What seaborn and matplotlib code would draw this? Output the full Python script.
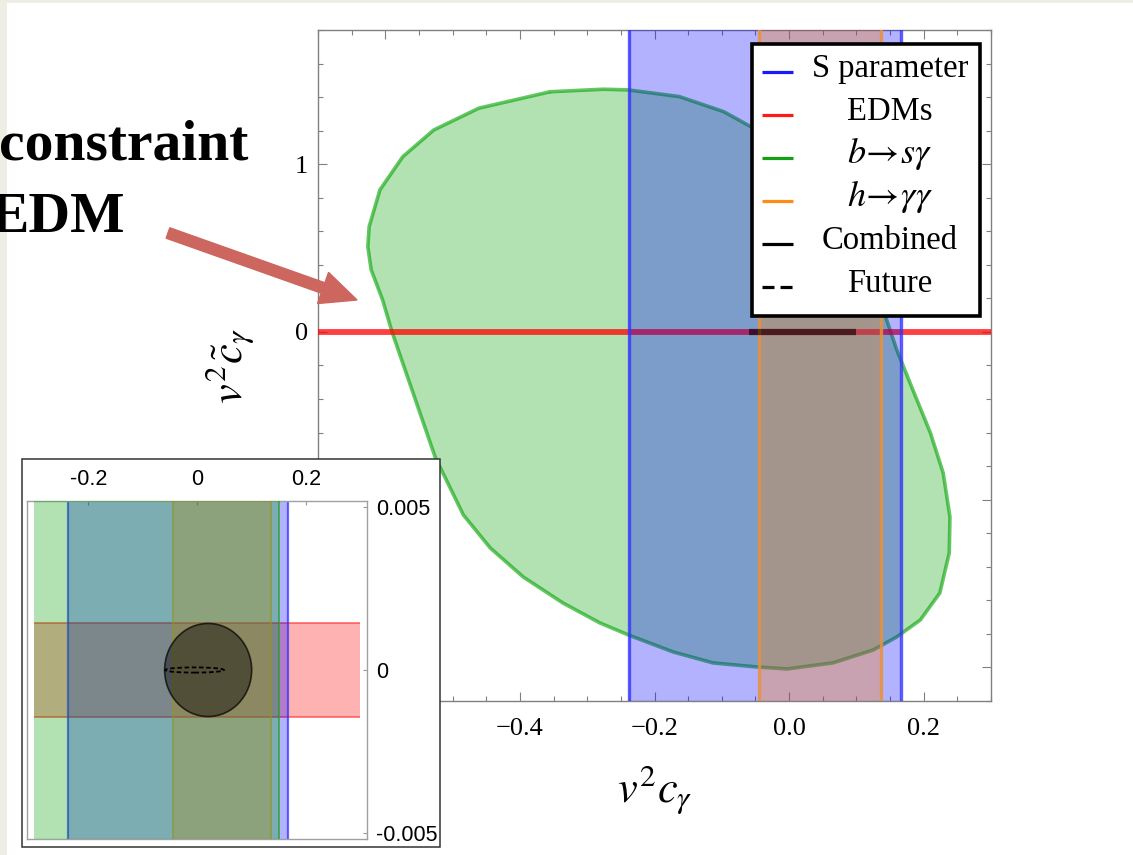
import matplotlib
matplotlib.use("Agg")
import pandas as pd
import matplotlib.pyplot as plt
import seaborn as sns
from matplotlib.patches import Rectangle, Ellipse, FancyArrow
from matplotlib.transforms import IdentityTransform
from matplotlib.ticker import MultipleLocator, FuncFormatter

# Constraint values
s_param = (-0.238, 0.166)        # S parameter band in v^2 c_gamma
h_gaga = (-0.045, 0.136)         # h -> gamma gamma band
edm_half = 0.00143               # EDM band half width in v^2 c~_gamma
bsg_zoom = (-0.300, 0.150)       # b -> s gamma band as seen in the zoomed panel
zoom_span = (-0.300, 0.300)      # plotted range of the zoomed panel
combined_center = (0.020, 0.0)
combined_radii = (0.080, 0.00143)
future_center = (-0.005, 0.0)
future_radii = (0.054, 0.00008)

# b -> s gamma allowed region (main panel)
bsg_x = [-0.355, -0.276, -0.239, -0.163, -0.097, -0.057, 0.002, 0.054, 0.098,
         0.117, 0.135, 0.160, 0.184, 0.210, 0.229, 0.239, 0.238, 0.224, 0.195,
         0.160, 0.125, 0.065, -0.003, -0.048, -0.113, -0.172, -0.239, -0.281,
         -0.336, -0.395, -0.444, -0.484, -0.519, -0.526, -0.590, -0.604,
         -0.621, -0.626, -0.624, -0.608, -0.574, -0.528, -0.461]
bsg_y = [1.432, 1.447, 1.443, 1.403, 1.313, 1.224, 1.085, 0.876, 0.608,
         0.399, 0.191, -0.107, -0.346, -0.602, -0.841, -1.103, -1.317, -1.556,
         -1.717, -1.818, -1.896, -1.973, -2.009, -1.997, -1.973, -1.908,
         -1.806, -1.735, -1.616, -1.461, -1.288, -1.091, -0.803, -0.745, 0.0,
         0.191, 0.370, 0.508, 0.628, 0.847, 1.045, 1.204, 1.334]

legend_labels = ["S parameter", "EDMs", r"$b\!\rightarrow\! s\gamma$",
                 r"$h\!\rightarrow\!\gamma\gamma$", "Combined", "Future"]
legend_colors = ["#1a1aff", "#ff1a1a", "#14a014", "#ff8c19", "black", "black"]
legend_styles = ["-", "-", "-", "-", "-", "--"]

main_xticks_step = 0.2
zoom_xticks = [-0.2, 0.0, 0.2]
zoom_xlabels = ["-0.2", "0", "0.2"]
zoom_yticks = [-0.005, 0.0, 0.005]
zoom_ylabels = ["-0.005", "0", "0.005"]

sns.set_style("ticks")
plt.rcParams["font.family"] = ["Liberation Serif", "DejaVu Serif"]
plt.rcParams["mathtext.fontset"] = "stix"
plt.rcParams["text.color"] = "black"
plt.rcParams["axes.labelcolor"] = "black"

W, H = 1133, 855
fig = plt.figure(figsize=(W / 100, H / 100), dpi=100)
fig.patch.set_facecolor("white")


def fx(px):
    return px / W


def fy(py):
    return 1 - py / H


# slide background strips
fig.add_artist(Rectangle((0, fy(3)), 1, 3 / H, transform=fig.transFigure,
                         facecolor="#eeeee4", edgecolor="none", zorder=1))
fig.add_artist(Rectangle((0, 0), 7 / W, 1, transform=fig.transFigure,
                         facecolor="#eeeee4", edgecolor="none", zorder=1))

# ---------------- main panel ----------------
L, R, T, B = 318, 991, 30, 701
ax = fig.add_axes([fx(L), fy(B), (R - L) / W, (B - T) / H])
ax.set_facecolor("white")

ax.fill(bsg_x, bsg_y, facecolor=(0.0, 0.635, 0.0, 0.3), edgecolor="none", zorder=1)
edge = pd.DataFrame({"x": bsg_x + bsg_x[:1], "y": bsg_y + bsg_y[:1]})
sns.lineplot(data=edge, x="x", y="y", sort=False, estimator=None,
             color=(0.0, 0.63, 0.0), alpha=0.6, linewidth=2.6, ax=ax, zorder=2)

# EDMs (band is far thinner than a pixel here)
ax.axhline(0.0, color="#ff0000", alpha=0.75, linewidth=4.2, zorder=3)

# S parameter
ax.axvspan(s_param[0], s_param[1], facecolor=(0, 0, 1, 0.3), edgecolor="none", zorder=4)
for v in s_param:
    ax.axvline(v, color="#3333ff", alpha=0.8, linewidth=2.4, zorder=4)

# h -> gamma gamma
ax.axvspan(h_gaga[0], h_gaga[1], facecolor=(1, 0.5, 0, 0.3), edgecolor="none", zorder=5)
for v in h_gaga:
    ax.axvline(v, color="#e8913a", alpha=0.85, linewidth=2.4, zorder=5)

# combined
ax.plot([combined_center[0] - combined_radii[0], combined_center[0] + combined_radii[0]],
        [combined_center[1], combined_center[1]], color="black", alpha=0.6,
        linewidth=4.5, solid_capstyle="butt", zorder=7)

ax.set_xlim(-0.7, 0.3)
ax.set_ylim(-2.2, 1.8)
ax.xaxis.set_major_locator(MultipleLocator(main_xticks_step))
ax.xaxis.set_minor_locator(MultipleLocator(0.05))
ax.yaxis.set_major_locator(MultipleLocator(1))
ax.yaxis.set_minor_locator(MultipleLocator(0.2))


def xfmt(v, _):
    if abs(v) < 1e-9:
        return "0.0"
    return f"{v:.1f}".replace("-", "\u2212")


ax.xaxis.set_major_formatter(FuncFormatter(xfmt))
ax.yaxis.set_major_formatter(FuncFormatter(lambda v, _: f"{v:.0f}".replace("-", "\u2212")))
ax.tick_params(which="both", direction="in", top=True, right=True,
               color="#808080", width=0.8, labelcolor="black")
ax.tick_params(which="major", length=6.4, labelsize=19)
ax.tick_params(which="minor", length=3.6)
ax.tick_params(axis="x", pad=12)
ax.tick_params(axis="y", pad=7)
for s in ax.spines.values():
    s.set_color("#808080")
    s.set_linewidth(1.0)

ax.set_xlabel(r"$v^2c_\gamma$", fontsize=32)
ax.set_ylabel(r"$v^2\tilde{c}_\gamma$", fontsize=32)
ax.xaxis.set_label_coords(0.5, (B - 790) / (B - T))
ax.xaxis.label.set_va("center")
ax.yaxis.set_label_coords((230 - L) / (R - L), 0.5)
ax.yaxis.label.set_va("center")


def axx(px):
    return (px - L) / (R - L)


def axy(py):
    return (B - py) / (B - T)


# legend box
ax.add_patch(Rectangle((axx(752), axy(316)), (980 - 752) / (R - L), (316 - 44) / (B - T),
                       transform=ax.transAxes, facecolor="white", edgecolor="black",
                       linewidth=2.6, zorder=10, clip_on=False))
for i, (lab, col, ls) in enumerate(zip(legend_labels, legend_colors, legend_styles)):
    ry = 71.7 + i * 43
    line, = ax.plot([axx(762), axx(793)], [axy(ry), axy(ry)], transform=ax.transAxes,
                    color=col, linewidth=2.3, linestyle=ls, clip_on=False, zorder=11,
                    solid_capstyle="butt", dash_capstyle="butt")
    if ls == "--":
        line.set_dashes((3.75, 1.9))
    size = 26 if lab.startswith("$") else 23.5
    ax.text(axx(890), axy(ry + 5), lab, transform=ax.transAxes, ha="center",
            va="baseline", fontsize=size, zorder=12)

# ---------------- zoomed panel ----------------
fig.add_artist(Rectangle((fx(22), fy(847)), (440 - 22) / W, (847 - 459) / H,
                         transform=fig.transFigure, facecolor="white",
                         edgecolor="#333333", linewidth=1.1, zorder=4))
ins = fig.add_axes([fx(27.3), fy(839.3), (366.7 - 27.3) / W, (839.3 - 500.7) / H], zorder=5)
ins.set_facecolor("white")

ins.fill_between(list(zoom_span), -edm_half, edm_half, color=(1, 0, 0, 0.3),
                 linewidth=0, zorder=1)
ins.hlines([-edm_half, edm_half], zoom_span[0], zoom_span[1], color="#ff3030",
           alpha=0.7, linewidth=1.2, zorder=1)

ins.axvspan(s_param[0], s_param[1], facecolor=(0, 0, 1, 0.3), edgecolor="none", zorder=2)
for v in s_param:
    ins.axvline(v, color="#3333ff", alpha=0.75, linewidth=1.6, zorder=2)

ins.axvspan(h_gaga[0], h_gaga[1], facecolor=(1, 0.5, 0, 0.3), edgecolor="none", zorder=3)
for v in h_gaga:
    ins.axvline(v, color="#d09030", alpha=0.7, linewidth=1.2, zorder=3)

ins.axvspan(bsg_zoom[0], bsg_zoom[1], facecolor=(0.0, 0.635, 0.0, 0.3), edgecolor="none", zorder=4)
ins.axvline(bsg_zoom[1], color="#20a020", alpha=0.8, linewidth=1.2, zorder=4)

ins.add_patch(Ellipse(combined_center, 2 * combined_radii[0], 2 * combined_radii[1],
                      facecolor=(0, 0, 0, 0.42), edgecolor=(0, 0, 0, 0.7),
                      linewidth=1.2, zorder=6))
ins.add_patch(Ellipse(future_center, 2 * future_radii[0], 2 * future_radii[1],
                      facecolor="none", edgecolor="black", linewidth=1.3,
                      linestyle=(0, (2.5, 1.5)), zorder=7))

ins.set_xlim(-0.3125, 0.3115)
ins.set_ylim(-0.0052, 0.0052)
ins.xaxis.tick_top()
ins.yaxis.tick_right()
ins.set_xticks(zoom_xticks)
ins.set_xticklabels(zoom_xlabels)
ins.set_yticks(zoom_yticks)
ins.set_yticklabels(zoom_ylabels)
ins.tick_params(direction="in", length=3, width=0.8, color="#999999", labelsize=15.5,
                labelfontfamily="Liberation Sans", labelcolor="black")
ins.tick_params(axis="x", pad=8)
ins.tick_params(axis="y", pad=7)
for s in ins.spines.values():
    s.set_color("#a0a0a0")
    s.set_linewidth(1.0)

# ---------------- slide annotations ----------------
fig.text(fx(248), fy(159), "constraint", ha="right", va="baseline", fontsize=41.5,
         fontweight="bold", family="Liberation Serif", color="black", zorder=3)
fig.text(fx(125), fy(232), "EDM", ha="right", va="baseline", fontsize=41.5,
         fontweight="bold", family="Liberation Serif", color="black", zorder=3)
fig.add_artist(FancyArrow(168, H - 233, 357 - 168, -(300 - 233), width=11,
                          head_width=33, head_length=36, length_includes_head=True,
                          color="#cc665e", transform=IdentityTransform(), zorder=6))

fig.savefig("out.png", dpi=100)
